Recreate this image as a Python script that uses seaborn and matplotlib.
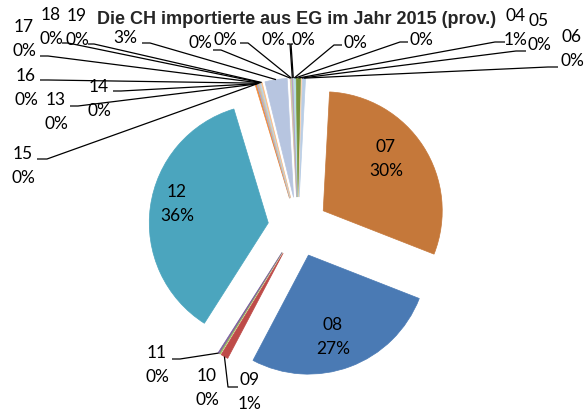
import matplotlib
matplotlib.use("Agg")
import matplotlib.pyplot as plt
import seaborn as sns
import numpy as np

# Daten (Anteile in %)
categories = ["01", "02", "03", "04", "05", "06", "07", "08", "09", "10", "11", "12",
              "13", "14", "15", "16", "17", "18", "19", "20", "21", "22", "23"]
shares = [0.1, 0.1, 0.1, 0.6, 0.1, 0.4, 30.0, 26.7, 1.0, 0.15, 0.15, 36.2,
          0.2, 0.1, 0.1, 0.1, 0.1, 0.1, 0.1, 3.0, 0.1, 0.1, 0.1]
colors = ["#D7E4BD", "#B7DEE8", "#B7DEE8", "#77933C", "#FCD5B5", "#B9CDE5",
          "#C5783A", "#4A7AB4", "#BE4B48", "#98B954", "#7D60A0", "#4BA5BE",
          "#F08A3C", "#95B3D7", "#E6A0A0", "#C3D69B", "#CCC1DA", "#B7DEE8",
          "#FAC090", "#B7C5E0", "#E6B9B8", "#C3D69B", "#B3A2C7"]
title = "Die CH importierte aus EG im Jahr 2015 (prov.)"

# Namen, die im Original unter dem Titel verschwinden
hidden_names = {"01", "02", "03", "20", "21", "22", "23"}

# Layout: Position der Beschriftung (Name), Prozent eine Zeile darunter
label_pos = {
    "07": (386, 147), "08": (333, 325), "12": (177, 192),
    "01": (303, 16), "02": (355, 19), "03": (421, 16), "04": (516, 16),
    "05": (539, 21), "06": (572, 37), "09": (250, 380), "10": (207, 376),
    "11": (157, 353), "13": (56, 100), "14": (99, 87), "15": (23, 154),
    "16": (26, 76), "17": (24, 27), "18": (51, 15), "19": (77, 16),
    "20": (125, 14), "21": (200, 19), "22": (225, 16), "23": (273, 16),
}
# Startpunkt der Führungslinie + Länge des kurzen waagrechten Stücks
leader = {
    "15": (37, 160, 10), "13": (70, 107, 8), "16": (40, 81, 8), "14": (113, 92, 8),
    "17": (40, 57, 8), "18": (62, 44, 6), "19": (88, 45, 6), "20": (142, 44, 8),
    "21": (213, 51, 8), "22": (240, 44, 8), "23": (287, 45, 3),
    "01": (293, 45, -2), "02": (342, 46, -8), "03": (408, 43, -8),
    "04": (505, 43, -10), "05": (526, 52, -10), "06": (558, 68, -10),
    "09": (238, 388, -10), "11": (172, 360, 8),
}

sns.set_style("white")
plt.rcParams["font.family"] = ["Lato", "DejaVu Sans"]

fig = plt.figure(figsize=(5.85, 4.14), dpi=100)
ax = fig.add_axes([0, 0, 1, 1])

wedges, _ = ax.pie(shares, colors=colors, explode=[30] * len(shares),
                   center=(298, 228), radius=119, startangle=268,
                   counterclock=True, wedgeprops=dict(linewidth=0.5))
for w in wedges:
    w.set_edgecolor(w.get_facecolor())

total = sum(shares)
for cat, val, w in zip(categories, shares, wedges):
    pct = f"{round(val / total * 100):.0f}%"
    x, y = label_pos[cat]
    if cat not in hidden_names:
        ax.text(x, y, cat, ha="center", va="center", fontsize=12.5, color="black", zorder=5)
    ax.text(x, y + 24, pct, ha="center", va="center", fontsize=12.5, color="black", zorder=5)
    if cat in leader:
        lx, ly, dx = leader[cat]
        mid = np.deg2rad((w.theta1 + w.theta2) / 2)
        cx, cy = w.center
        px, py = cx + w.r * np.cos(mid), cy + w.r * np.sin(mid)
        ax.plot([lx, lx + dx, px], [ly, ly, py], color="black", lw=0.9,
                solid_capstyle="butt", zorder=4)

ax.text(297, 19, title, ha="center", va="center", fontsize=13, fontweight="bold",
        family="Liberation Sans", zorder=10)

ax.set_xlim(0, 585)
ax.set_ylim(414, 0)
ax.set_aspect("equal")
ax.axis("off")

fig.savefig("out.png", dpi=100, facecolor="white")
